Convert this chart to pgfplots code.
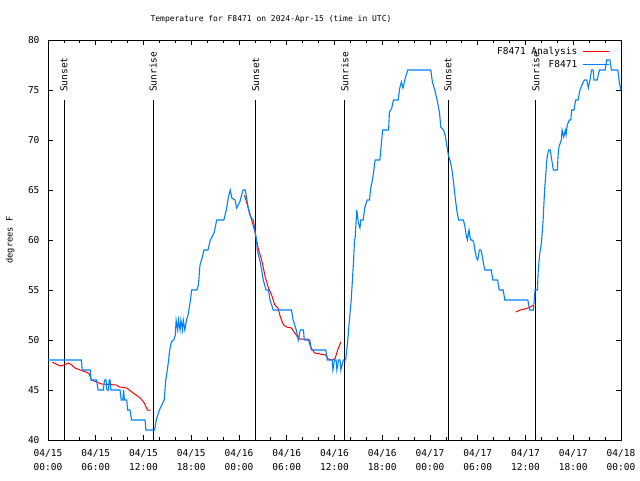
\documentclass[border=0pt]{standalone}
\usepackage{pgfplots}
\pgfplotsset{compat=1.18}
\usepackage{fontspec}
\setmainfont{DejaVu Sans Mono}
\definecolor{obsblue}{RGB}{0,128,255}
\begin{document}
\begin{tikzpicture}
\begin{axis}[
  scale only axis,
  width=573pt, height=400pt,
  xmin=0, xmax=72, ymin=40, ymax=80,
  xtick={0,6,...,72},
  minor x tick num=2,
  ytick={40,45,...,80},
  xticklabels={{04/15\\00:00},{04/15\\06:00},{04/15\\12:00},{04/15\\18:00},{04/16\\00:00},{04/16\\06:00},{04/16\\12:00},{04/16\\18:00},{04/17\\00:00},{04/17\\06:00},{04/17\\12:00},{04/17\\18:00},{04/18\\00:00}},
  xticklabel style={align=center, font=\fontsize{9.5}{13.5}\selectfont, yshift=-6pt},
  yticklabel style={font=\fontsize{9.5}{12}\selectfont, xshift=-5pt},
  /pgf/number format/assume math mode=true,
  major tick length=5pt, minor tick length=3pt,
  every tick/.style={black, line width=0.8pt},
  axis line style={line width=0.8pt},
  ylabel={degrees F},
  ylabel style={font=\fontsize{8.7}{10}\selectfont, at={(axis description cs:-0.066,0.5)}, anchor=center},
  legend style={draw=none, fill=none, at={(1,1)}, anchor=north east, xshift=-8pt, yshift=-3pt, font=\fontsize{9.5}{11}\selectfont, legend cell align=right, row sep=0.5pt, column sep=3pt},
  legend plot pos=right,
  legend image post style={xscale=1.55},
  clip=true,
]
\coordinate (SW) at (rel axis cs:0,0);
\coordinate (NE) at (rel axis cs:1,1);
% sun lines
\addplot[black, line width=0.8pt, forget plot] coordinates {(2,40) (2,74)};
\addplot[black, line width=0.8pt, forget plot] coordinates {(13.2,40) (13.2,74)};
\addplot[black, line width=0.8pt, forget plot] coordinates {(26.1,40) (26.1,74)};
\addplot[black, line width=0.8pt, forget plot] coordinates {(37.3,40) (37.3,74)};
\addplot[black, line width=0.8pt, forget plot] coordinates {(50.25,40) (50.25,74)};
\addplot[black, line width=0.8pt, forget plot] coordinates {(61.3,40) (61.3,74)};
% analysis
\addplot[red, line width=1pt] coordinates {(0.54,47.8)(1.0,47.6)(1.6,47.4)(2.0,47.5)(2.55,47.7)(3.0,47.5)(3.4,47.2)(4.4,46.9)(5.1,46.7)(5.5,46.0)(6.1,45.8)(6.75,45.6)(8.6,45.5)(9.0,45.3)(9.9,45.2)(10.7,44.7)(11.6,44.2)(12.1,43.7)(12.5,43.0)(12.9,43.0)};
\addlegendentry{F8471 Analysis}
\addplot[red, line width=1pt, forget plot] coordinates {(24.7,64.5)(25.05,63.5)(25.5,62.3)(26.0,60.8)(26.4,59.2)(26.85,58)(27.3,56.3)(27.7,55.2)(28.1,54.5)(28.5,53.5)(28.9,53.2)(29.2,52.3)(29.6,51.5)(30.0,51.3)(30.6,51.2)(31.0,50.7)(31.45,50.2)(31.7,50.1)(32.7,50.1)(33.0,49.3)(33.5,48.7)(34.2,48.6)(34.9,48.5)(35.2,48.1)(35.8,48.0)(36.1,48.2)(36.4,49)(36.8,49.8)};
\addplot[red, line width=1pt, forget plot] coordinates {(58.8,52.8)(59.3,53.0)(59.9,53.1)(60.3,53.2)(60.6,53.3)(61.0,53.5)};
% observations
\addplot[obsblue, line width=1.1pt] coordinates {
(0,48)(4.2,48)(4.3,47)(5.3,47)(5.4,46)(6.1,46)(6.3,45)(6.95,45)(7.1,46)(7.3,46)(7.4,45)(7.6,45)(7.7,46)(7.8,46)(7.9,45)(9.05,45)(9.2,44)(9.4,44)(9.5,45)(9.6,44)(9.9,44)(10.0,43)(10.3,43)(10.5,42)(12.2,42)(12.3,41)(13.4,41)
(13.6,42)(14.0,43)(14.3,43.5)(14.6,44)(14.8,46)(15.0,47)(15.3,49)(15.5,49.8)(15.8,50)(16.0,50.5)(16.1,52)(16.3,51)(16.4,52)(16.6,51)(16.7,52)(16.9,51)(17.0,52)(17.2,51)(17.4,52)(17.6,52.5)(17.85,53.7)(18.05,55)(18.7,55)(18.9,55.5)(19.1,57.5)(19.3,58)(19.6,59)(20.1,59)(20.4,60)(20.6,60.3)(20.9,60.8)(21.2,62)(22.1,62)(22.4,63)(22.65,64.2)(22.9,65)(23.1,64.2)(23.5,64)(23.7,63.2)(24.1,63.8)(24.5,65)(24.8,65)(25.05,63.7)(25.3,62.7)(25.5,62.2)(25.8,62)(26.0,61)(26.2,60)
(26.3,59)(26.6,58)(26.85,57)(27.05,56)(27.4,55)(27.7,55)(27.9,54)(28.3,53)(30.6,53)(30.8,52)(31.2,51)(31.45,50)(31.7,51)(32.1,51)(32.2,50)(32.9,50)(33.1,49)(34.9,49)(35.1,48)(35.7,48)(35.8,47)(36.0,48)(36.2,48)(36.3,47)(36.5,48)(36.7,48)(36.8,47)(37.1,48)(37.4,48)
(37.5,48.7)(37.7,50.3)(37.95,52.7)(38.1,54)(38.2,55.3)(38.4,58)(38.5,59.8)(38.6,60.3)(38.7,61.7)(38.8,63)(39.0,61.7)(39.2,61.2)(39.3,62)(39.6,62)(39.8,63.2)(40.1,64)(40.4,64)(40.55,65.2)(40.7,65.7)(40.9,66.7)(41.1,68)(41.7,68)(41.9,69.7)(42.05,71)(42.8,71)(42.9,72.8)(43.2,73.2)(43.4,74)(44.0,74)(44.2,75.2)(44.4,75.8)(44.6,75.2)(44.9,76.2)(45.2,77)(48.1,77)
(48.3,75.8)(48.6,75)(48.9,74)(49.2,72.7)(49.35,71.3)(49.7,71)(49.9,70.5)(50.1,69.5)(50.3,68.5)(50.5,68)(50.7,67.3)(50.9,66.2)(51.1,64.7)(51.25,63.7)(51.4,62.8)(51.6,62)(52.2,62)(52.4,61.3)(52.6,60.3)(52.7,60)(52.9,61)(53.1,60)(53.3,60)(53.5,59.8)(53.6,59.2)(53.8,58.3)(54.0,58)(54.2,59)(54.4,59)(54.6,58.3)(54.7,57.7)(54.9,57)(55.7,57)(55.9,56)(56.5,56)(56.7,55)(57.2,55)(57.4,54)(60.3,54)(60.5,53)(61.0,53)
(61.1,54)(61.2,55)(61.5,55)(61.6,57)(61.8,58.7)(62.0,59.7)(62.2,61.8)(62.4,65)(62.7,68.2)(62.9,69)(63.1,69)(63.3,68)(63.5,67)(64.0,67)(64.1,68.5)(64.2,69.3)(64.5,70)(64.6,71)(64.8,70.3)(65.0,71)(65.1,70.5)(65.25,71.5)(65.5,72)(65.7,72)(65.8,73)(66.1,73)(66.3,74)(66.6,74)(66.85,75)(67.2,75.7)(67.4,76)(67.7,76)(67.9,75.2)(68.1,76)(68.3,77)(68.5,77)(68.6,76)(69.0,76)(69.2,76.7)(69.3,77)(70.0,77)(70.2,78)(70.6,78)(70.8,77)(71.6,77)(71.8,75.7)(72,75)};
\addlegendentry{F8471}
% sun labels
\node[rotate=90, anchor=west, inner sep=0pt, font=\fontsize{9.5}{11}\selectfont] at (axis cs:2,74.8) {Sunset};
\node[rotate=90, anchor=west, inner sep=0pt, font=\fontsize{9.5}{11}\selectfont] at (axis cs:13.2,74.8) {Sunrise};
\node[rotate=90, anchor=west, inner sep=0pt, font=\fontsize{9.5}{11}\selectfont] at (axis cs:26.1,74.8) {Sunset};
\node[rotate=90, anchor=west, inner sep=0pt, font=\fontsize{9.5}{11}\selectfont] at (axis cs:37.3,74.8) {Sunrise};
\node[rotate=90, anchor=west, inner sep=0pt, font=\fontsize{9.5}{11}\selectfont] at (axis cs:50.25,74.8) {Sunset};
\node[rotate=90, anchor=west, inner sep=0pt, font=\fontsize{9.5}{11}\selectfont] at (axis cs:61.3,74.8) {Sunrise};
\end{axis}
\node[font=\fontsize{8}{10}\selectfont] at ([xshift=223pt, yshift=21pt]SW |- NE) {Temperature for F8471 on 2024-Apr-15 (time in UTC)};
\pgfresetboundingbox
\path ([shift={(-48pt,-40pt)}]SW) rectangle ([shift={(19pt,40pt)}]NE);
\end{tikzpicture}
\end{document}
